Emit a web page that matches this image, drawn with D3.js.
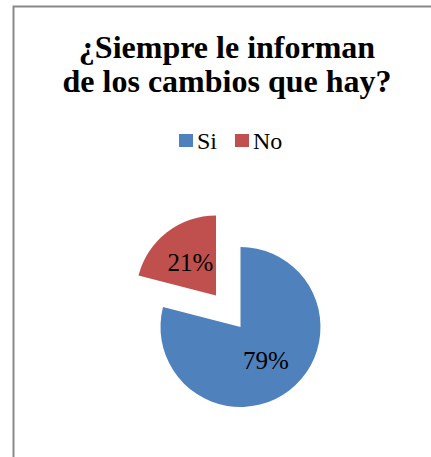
<!DOCTYPE html>
<html>
<head>
<meta charset="utf-8">
<script src="https://cdn.jsdelivr.net/npm/d3@7/dist/d3.min.js"></script>
<style>
  body { margin: 0; background: #fff; }
  text { font-family: "Liberation Serif", "Times New Roman", serif; }
</style>
</head>
<body>
<svg></svg>
<script>
var w = 431, h = 457;

var categories = ["Si", "No"];
var values = [79, 21];
var colors = ["#4F81BD", "#C0504D"];
var titleLines = ["¿Siempre le informan", "de los cambios que hay?"];

var svg = d3.select("svg")
        .attr("width", w)
        .attr("height", h);

// chart frame (only top and left edges show)
svg.append("path")
        .attr("d", "M13.5," + h + " V6.5 H" + w)
        .attr("fill", "none")
        .attr("stroke", "#888")
        .attr("stroke-width", 2);

svg.selectAll("text.title")
        .data(titleLines)
        .enter().append("text")
        .attr("class", "title")
        .attr("x", 227)
        .attr("y", function(d, i) { return 58 + i * 34; })
        .attr("text-anchor", "middle")
        .attr("font-size", 32)
        .attr("font-weight", "bold")
        .text(function(d) { return d; });

// legend
var legendX = [179, 235];
var legend = svg.selectAll("g.legend")
        .data(categories)
        .enter().append("g")
        .attr("class", "legend")
        .attr("transform", function(d, i) { return "translate(" + legendX[i] + ",134)"; });

legend.append("rect")
        .attr("width", 14)
        .attr("height", 13)
        .attr("fill", function(d, i) { return colors[i]; });

legend.append("text")
        .attr("x", 18)
        .attr("y", 15)
        .attr("font-size", 24)
        .text(function(d) { return d; });

// pie
var cx = 240.5, cy = 327, r = 80, explode = 40;

var pie = d3.pie().sort(null).value(function(d) { return d; });
var arc = d3.arc().innerRadius(0).outerRadius(r);
var arcs = pie(values);

var slice = svg.append("g")
        .selectAll("g")
        .data(arcs)
        .enter().append("g")
        .attr("transform", function(d, i) {
            var off = i === 1 ? explode : 0;
            var a = (d.startAngle + d.endAngle) / 2;
            return "translate(" + (cx + off * Math.sin(a)) + "," + (cy - off * Math.cos(a)) + ")";
        });

slice.append("path")
        .attr("d", arc)
        .attr("fill", function(d, i) { return colors[i]; });

slice.append("text")
        .attr("x", function(d) { return 0.52 * r * Math.sin((d.startAngle + d.endAngle) / 2); })
        .attr("y", function(d) { return -0.52 * r * Math.cos((d.startAngle + d.endAngle) / 2); })
        .attr("dy", "0.35em")
        .attr("text-anchor", "middle")
        .attr("font-size", 25)
        .text(function(d) { return d.data + "%"; });
</script>
</body>
</html>
